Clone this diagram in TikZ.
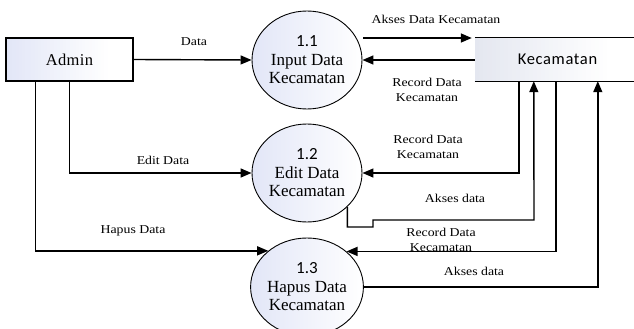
\documentclass[tikz,border=0pt]{standalone}
\usepackage{fontspec}
\setmainfont{Liberation Serif}
\newfontfamily\lblfont{Liberation Serif}[FakeStretch=1.15]
\newfontfamily\numfont{Carlito}
\newfontfamily\kecfont{Carlito}[LetterSpace=4]
\newfontfamily\admfont{Liberation Serif}[LetterSpace=2]
\usetikzlibrary{arrows.meta,shapes.geometric,calc}
\definecolor{tint}{RGB}{226,230,247}
\definecolor{ktint}{RGB}{228,231,240}
\tikzset{
  arr/.style={line width=1.4pt,-{Triangle[length=11pt,width=9pt]}},
  egrad/.style={path picture={\shade[left color=#1,right color=white]
    (path picture bounding box.south west) rectangle (path picture bounding box.north east);}},
  sgrad/.style={path picture={
    \foreach \i in {0,...,39}{
      \pgfmathsetmacro\p{max(0,100-\i*100/32)}
      \fill[#1!\p!white]
        ($(path picture bounding box.south west)!\i/40!(path picture bounding box.south east)$)
        rectangle
        ($(path picture bounding box.north west)!{(\i+1.5)/40}!(path picture bounding box.north east)$);
    }}},
  proc/.style={ellipse,draw,line width=0.9pt,minimum width=110pt,minimum height=98pt,
    inner sep=0pt,align=center,egrad=tint,
    font=\fontsize{17}{18.5}\selectfont},
  ent/.style={rectangle,draw,line width=1.2pt,minimum width=127pt,minimum height=43pt,
    inner sep=0pt,sgrad=tint,font=\admfont\fontsize{16.5}{18}\selectfont},
  lbl/.style={align=center,inner sep=0pt,font=\lblfont\fontsize{12}{15}\selectfont},
}
\begin{document}
\begin{tikzpicture}[x=1pt,y=-1pt]
\useasboundingbox (0,0) rectangle (634,329);
% entities
\node[ent] (admin) at (69.5,59.5) {Admin};
\node[rectangle,inner sep=0pt,minimum width=165pt,minimum height=43.5pt,sgrad=ktint,
  font=\kecfont\fontsize{16.5}{18}\selectfont] (kec) at (557.5,59.25) {Kecamatan};
\draw[line width=1.3pt] (kec.north west) -- (kec.north east);
\draw[line width=1.3pt] (kec.south west) -- (kec.south east);
% processes
\node[proc] (c1) at (307,60) {{\numfont 1.1}\\Input Data\\Kecamatan};
\node[proc] (c2) at (307,173) {{\numfont 1.2}\\Edit Data\\Kecamatan};
\node[proc] (c3) at (307,287) {{\numfont 1.3}\\Hapus Data\\Kecamatan};
% flows
\draw[arr] (admin.east) -- (c1.west);
\coordinate (a1s) at (363,38);
\draw[arr] (a1s) -- ([xshift=-3pt]a1s -| kec.west);
\draw[arr] (kec.west |- c1.east) -- (c1.east);
\draw[arr] ([xshift=64pt]admin.south west) |- (c2.west);
\draw[arr] ([xshift=30pt]admin.south west) |- (c3.137.7);
\draw[arr] ([xshift=44pt]kec.south west) |- (c2.east);
\coordinate (s1) at (373,227);
\coordinate (s2) at (534,220);
\draw[arr] (c2.-40) |- (s1) |- (s2) -- ([xshift=59pt]kec.south west);
\draw[arr] ([xshift=81pt]kec.south west) |- (c3.42.3);
\draw[arr] (c3.east) -| ([xshift=123pt]kec.south west);
% labels
\node[lbl] (l1) at (194,42) {Data};
\node[lbl] (l2) at (436,19) {Akses Data Kecamatan};
\node[lbl] (l3) at (427,90) {Record Data\\Kecamatan};
\node[lbl] (l4) at (428,147) {Record Data\\Kecamatan};
\node[lbl] (l5) at (163,160) {Edit Data};
\node[lbl] (l6) at (455,198) {Akses data};
\node[lbl] (l7) at (441,240) {Record Data\\Kecamatan};
\node[lbl] (l8) at (133,231) {Hapus Data};
\node[lbl] (l9) at (474,271) {Akses data};
\end{tikzpicture}
\end{document}
